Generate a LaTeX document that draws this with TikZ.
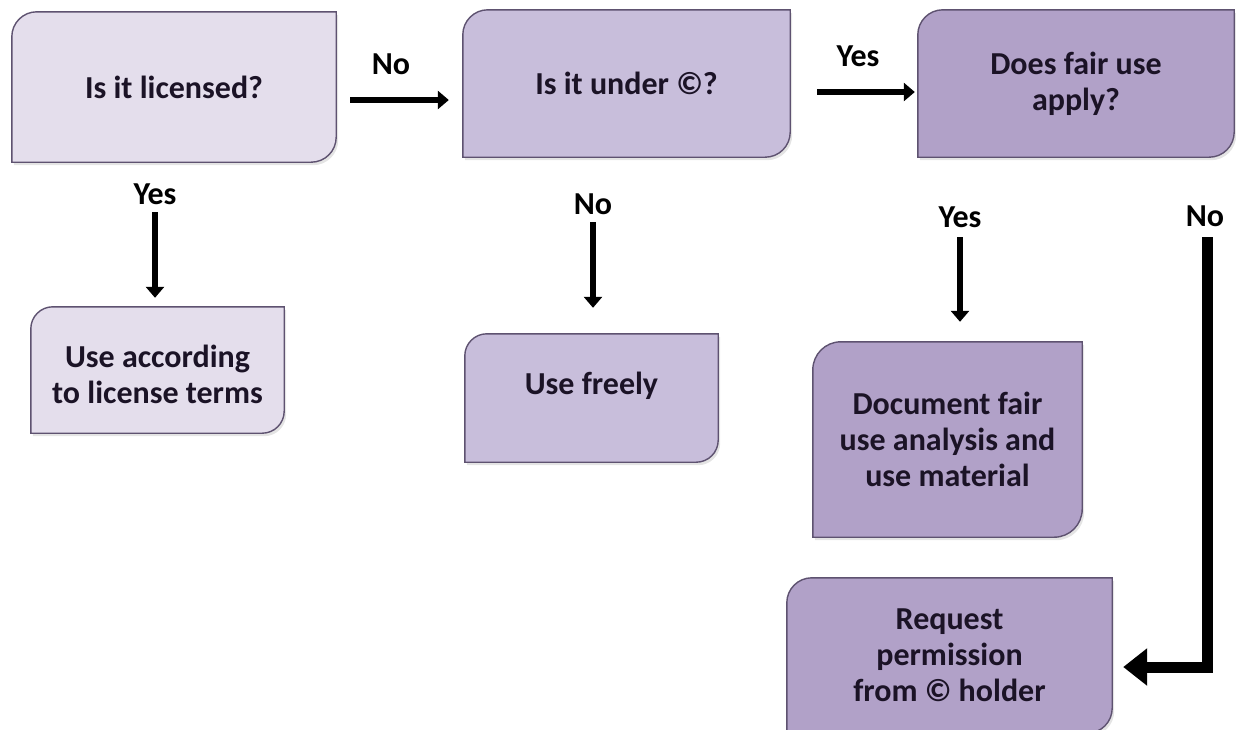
\documentclass[tikz,border=0pt]{standalone}
\usepackage{fontspec}
\setmainfont{Carlito}
\usetikzlibrary{arrows.meta,calc,backgrounds}
\definecolor{cA}{HTML}{E4DEEC}
\definecolor{cB}{HTML}{C8BEDB}
\definecolor{cC}{HTML}{B1A1C8}
\definecolor{edgecol}{HTML}{5E5270}
\definecolor{ink}{HTML}{1B1326}
\newcommand{\slantbox}[3][]{%
  \path[#1] (#2.south west) -- ($(#2.north west)+(0,-#3)$)
    arc[start angle=180,end angle=90,radius=#3] -- (#2.north east)
    -- ($(#2.south east)+(0,#3)$)
    arc[start angle=0,end angle=-90,radius=#3] -- cycle;}
\newcommand{\shadedbox}[3]{%
  \slantbox[fill=black!30,opacity=0.35,transform canvas={xshift=2pt,yshift=-3pt}]{#1}{#3}
  \slantbox[fill=#2,draw=edgecol,line width=1.4pt]{#1}{#3}}
\tikzset{
  x=1pt,y=1pt,
  boxtext/.style={inner sep=0pt,align=center,text=ink,
    font=\bfseries\fontsize{32}{36}\selectfont},
  lbl/.style={inner sep=0pt,text=black,font=\bfseries\fontsize{32}{36}\selectfont},
  arr/.style={line width=5.5pt,-{Triangle[width=18pt,length=11pt]}},
  bigarr/.style={line width=11pt,-{Triangle[width=36pt,length=24pt]}},
}
\begin{document}
\begin{tikzpicture}
\useasboundingbox (0,0) rectangle (1236,-729);
% boxes
\node[boxtext,minimum width=324pt,minimum height=150pt] (b1) at (174,-87) {Is it licensed?};
\node[boxtext,minimum width=327pt,minimum height=147pt] (b2) at (626.5,-83.5) {Is it under ©?};
\node[boxtext,minimum width=316pt,minimum height=147pt] (b3) at (1076,-83.5) {Does fair use\\apply?};
\node[boxtext,minimum width=253pt,minimum height=126pt,
      label={[boxtext,yshift=-4pt]center:Use according\\to license terms}] (b4) at (157.5,-370) {};
\node[boxtext,minimum width=253pt,minimum height=128pt,
      label={[boxtext,yshift=12pt]center:Use freely}] (b5) at (591.5,-398) {};
\node[boxtext,minimum width=269pt,minimum height=195pt] (b6) at (947.5,-439.5) {Document fair\\use analysis and\\use material};
\node[boxtext,minimum width=325pt,minimum height=155pt] (b7) at (949.5,-655.5) {Request\\permission\\from © holder};
\begin{scope}[on background layer]
  \clip (0,0) rectangle (1236,-729);
  \shadedbox{b1}{cA}{25pt}
  \shadedbox{b2}{cB}{25pt}
  \shadedbox{b3}{cC}{25pt}
  \shadedbox{b4}{cA}{22pt}
  \shadedbox{b5}{cB}{22pt}
  \shadedbox{b6}{cC}{28pt}
  \shadedbox{b7}{cC}{25pt}
\end{scope}
% labels
\node[lbl] (l1) at (391,-64) {No};
\node[lbl] (l2) at (858,-56) {Yes};
\node[lbl] (l3) at (155,-194) {Yes};
\node[lbl] (l4) at (593,-204) {No};
\node[lbl] (l5) at (960,-217) {Yes};
\node[lbl] (l6) at (1205,-216) {No};
% connectors
\draw[arr] ($(b1.east)+(14,-13)$) -- ($(b2.west)+(-14,-16.5)$);
\draw[arr] ($(b2.east)+(27,-8.5)$) -- ($(b3.west)+(-3,-8.5)$);
\draw[arr] ($(b1.south)+(-19,-50)$) -- ($(b4.north)+(-2.5,9)$);
\draw[arr] ($(b2.south)+(-33.5,-65)$) -- ($(b5.north)+(1.5,26)$);
\draw[arr] ($(b3.south)+(-116,-80)$) -- ($(b6.north)+(12.5,20)$);
\draw[bigarr] ($(b3.south east)+(-27,-80)$) |- ($(b7.east)+(11,-11.5)$);
\end{tikzpicture}
\end{document}
